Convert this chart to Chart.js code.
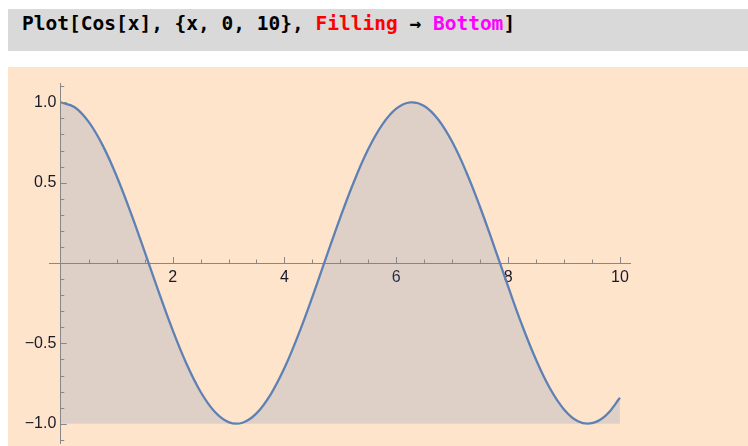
<!DOCTYPE html>
<html>
<head>
<meta charset="utf-8">
<script src="https://cdn.jsdelivr.net/npm/chart.js@4/dist/chart.umd.min.js"></script>
<style>
  html,body{margin:0;padding:0;background:#fff;width:748px;height:446px;overflow:hidden;}
  .cell{position:absolute;left:8px;top:9px;width:740px;height:42px;background:#d9d9d9;}
  .code{position:absolute;left:14px;top:3px;font:bold 19.5px "DejaVu Sans Mono",monospace;color:#000;white-space:pre;}
  .code .opt{color:#ff0000;}
  .code .val{color:#ff00ff;}
  .out{position:absolute;left:8px;top:67px;width:740px;height:379px;background:#ffe4cc;}
  #plot{position:absolute;left:0;top:0;}
</style>
</head>
<body>
<div class="cell"><span class="code">Plot[Cos[x], {x, 0, 10}, <span class="opt">Filling</span> → <span class="val">Bottom</span>]</span></div>
<div class="out"></div>
<canvas id="plot" width="748" height="446"></canvas>
<script>
// curve
const xs = [0,0.25,0.5,0.75,1,1.25,1.5,1.75,2,2.25,2.5,2.75,3,3.25,3.5,3.75,4,4.25,4.5,4.75,
            5,5.25,5.5,5.75,6,6.25,6.5,6.75,7,7.25,7.5,7.75,8,8.25,8.5,8.75,9,9.25,9.5,9.75,10];
const ys = [1,0.969,0.878,0.732,0.540,0.315,0.071,-0.178,-0.416,-0.628,-0.801,-0.924,-0.990,-0.994,-0.936,-0.820,
            -0.654,-0.446,-0.211,0.038,0.284,0.512,0.709,0.861,0.960,0.999,0.977,0.893,0.754,0.568,0.347,0.104,
            -0.146,-0.387,-0.602,-0.781,-0.911,-0.985,-0.997,-0.948,-0.839];

const xMajor = [2,4,6,8,10];
const xMinor = [0.5,1,1.5,2.5,3,3.5,4.5,5,5.5,6.5,7,7.5,8.5,9,9.5];
const yMajor = [-1,-0.5,0.5,1];
const yMinor = [-1.1,-0.9,-0.8,-0.7,-0.6,-0.4,-0.3,-0.2,-0.1,0.1,0.2,0.3,0.4,0.6,0.7,0.8,0.9,1.1];
// trailing space keeps the label off the axis line
const yLabels = {'-1':'\u22121.0 ','-0.5':'\u22120.5 ','0.5':'0.5 ','1':'1.0 '};

const axisCol = '#888888';
const lineCol = '#5e81b5';
const labelFont = {family:'Liberation Sans', size:16};

// mathematica style inward ticks
const tickMarks = {
  id:'tickMarks',
  afterDatasetsDraw(chart){
    const {ctx, scales:{x, y}} = chart;
    const x0 = x.getPixelForValue(0), y0 = y.getPixelForValue(0);
    ctx.save();
    ctx.strokeStyle = axisCol; ctx.lineWidth = 1;
    ctx.beginPath();
    xMajor.forEach(v=>{ const p=Math.round(x.getPixelForValue(v))+0.5; ctx.moveTo(p,y0); ctx.lineTo(p,y0-6); });
    xMinor.forEach(v=>{ const p=Math.round(x.getPixelForValue(v))+0.5; ctx.moveTo(p,y0); ctx.lineTo(p,y0-3.5); });
    yMajor.forEach(v=>{ const p=Math.round(y.getPixelForValue(v))+0.5; ctx.moveTo(x0,p); ctx.lineTo(x0+6,p); });
    yMinor.forEach(v=>{ const p=Math.round(y.getPixelForValue(v))+0.5; ctx.moveTo(x0,p); ctx.lineTo(x0+3.5,p); });
    ctx.stroke();
    ctx.restore();
  }
};

const noPad = s=>{ s.paddingTop=0; s.paddingBottom=0; s.paddingLeft=0; s.paddingRight=0; };

new Chart(document.getElementById('plot'), {
  type:'line',
  data:{ datasets:[{
    data: xs.map((v,i)=>({x:v, y:ys[i]})),
    borderColor: lineCol, borderWidth: 2.3,
    backgroundColor: 'rgba(94,129,181,0.2)',
    fill: {value:-1},
    pointRadius: 0, tension: 0.4
  }]},
  plugins:[tickMarks],
  options:{
    responsive:false, animation:false,
    layout:{padding:{left:49, right:118, top:83, bottom:3}},
    plugins:{legend:{display:false}, tooltip:{enabled:false}},
    scales:{
      x:{ type:'linear', min:-0.21, max:10.18, position:{y:0},
          grid:{display:false, drawTicks:false},
          border:{display:true, color:axisCol, width:1},
          afterBuildTicks: s=>{ s.ticks = xMajor.map(v=>({value:v})); },
          afterFit: noPad,
          ticks:{ padding:5, color:'#1a1a2a', font:labelFont, callback:v=>String(v) } },
      y:{ type:'linear', min:-1.12, max:1.12, position:{x:0},
          grid:{display:false, drawTicks:false},
          border:{display:true, color:axisCol, width:1},
          afterBuildTicks: s=>{ s.ticks = yMajor.map(v=>({value:v})); },
          afterFit: noPad,
          ticks:{ padding:6, color:'#1a1a2a', font:labelFont, callback:v=>yLabels[String(v)] } }
    }
  }
});
</script>
</body>
</html>
